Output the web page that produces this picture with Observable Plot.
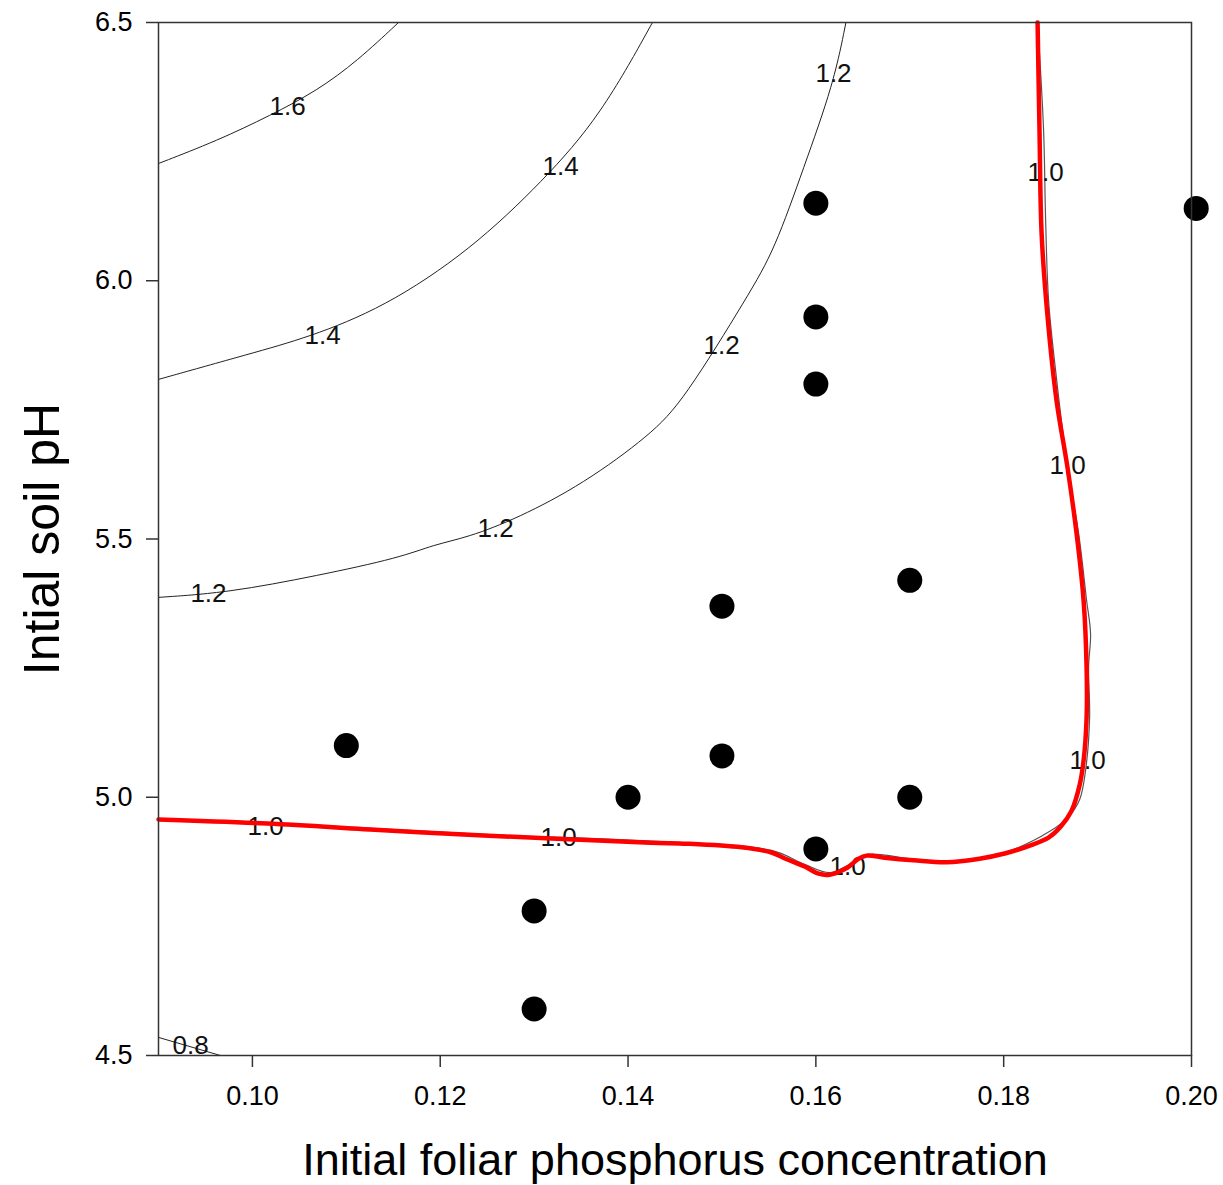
<!DOCTYPE html>
<html>
<head>
<meta charset="utf-8">
<script src="https://cdn.jsdelivr.net/npm/d3@7"></script>
<script src="https://cdn.jsdelivr.net/npm/@observablehq/plot@0.6"></script>
<style>
  body { margin: 0; background: #fff; }
  #chart svg { display: block; }
</style>
</head>
<body>
<div id="chart"></div>
<script>
// ---- Data ----
const xTicks = [0.10, 0.12, 0.14, 0.16, 0.18, 0.20];
const yTicks = [4.5, 5.0, 5.5, 6.0, 6.5];

// Contour lines, [foliar P, soil pH]
const contour16 = [[0.09,6.227],[0.0963,6.2715],[0.1019,6.32],[0.1069,6.368],[0.1112,6.426],[0.11556,6.5]];
const contour14 = [[0.09,5.809],[0.0998,5.859],[0.1059,5.890],[0.114,5.948],[0.1232,6.059],[0.131,6.194],[0.1371,6.320],[0.1426,6.5]];
const contour12 = [[0.09,5.387],[0.09735,5.396],[0.10693,5.429],[0.11577,5.464],[0.11929,5.489],[0.12291,5.503],[0.12823,5.540],[0.13526,5.607],[0.1424,5.702],[0.1459,5.768],[0.1529,5.975],[0.1556,6.060],[0.1587,6.219],[0.1619,6.382],[0.1632,6.5]];
const contour10 = [[0.18361,6.5],[0.18425,6.291],[0.18446,6.122],[0.18478,5.962],[0.18553,5.826],[0.1868,5.638],[0.18798,5.511],[0.18883,5.381],[0.18925,5.317],[0.18904,5.251],[0.18915,5.154],[0.18872,5.052],[0.18808,4.995],[0.18690,4.962],[0.18500,4.935],[0.1801,4.893],[0.17392,4.876],[0.1704,4.880],[0.1654,4.889],[0.16338,4.868],[0.16146,4.854],[0.1588,4.870],[0.15528,4.897],[0.1424,4.915],[0.12461,4.928],[0.10161,4.951],[0.09,4.958]];
const contour08 = [[0.09,4.535],[0.0966,4.5]];

// Red threshold line
const redLine = [[0.18361,6.5],[0.18382,6.285],[0.18404,6.091],[0.18468,5.929],[0.18563,5.768],[0.1868,5.638],[0.18776,5.511],[0.18851,5.381],[0.18883,5.251],[0.18883,5.154],[0.18851,5.071],[0.18808,5.023],[0.18723,4.974],[0.18606,4.943],[0.18478,4.922],[0.18286,4.907],[0.1801,4.891],[0.17743,4.881],[0.17392,4.874],[0.1704,4.878],[0.16732,4.883],[0.1654,4.887],[0.16455,4.881],[0.16338,4.864],[0.16146,4.850],[0.16029,4.852],[0.1588,4.866],[0.15677,4.881],[0.15528,4.893],[0.15209,4.903],[0.14634,4.910],[0.1424,4.912],[0.12461,4.926],[0.11396,4.936],[0.10161,4.949],[0.09,4.957]];

// Contour labels
const labelText = ["1.6","1.4","1.4","1.2","1.2","1.2","1.2","1.0","1.0","1.0","1.0","1.0","1.0","0.8"];
const labelX = [0.10374,0.13281,0.10747,0.09532,0.12589,0.14996,0.16188,0.18446,0.1868,0.18893,0.10140,0.1326,0.16338,0.09341];
const labelY = [6.337,6.221,5.894,5.394,5.520,5.875,6.401,6.210,5.642,5.071,4.943,4.922,4.866,4.519];

// Observed points
const pointX = [0.16,0.16,0.16,0.2005,0.17,0.15,0.11,0.15,0.14,0.17,0.16,0.13,0.13];
const pointY = [6.15,5.93,5.80,6.14,5.42,5.37,5.10,5.08,5.00,5.00,4.90,4.78,4.59];

// ---- Build tables ----
const toRows = arr => arr.map(([x, y]) => ({x, y}));
const contours = [contour16, contour14, contour12, contour08].map(toRows);
const labels = labelText.map((t, i) => ({t, x: labelX[i], y: labelY[i]}));
const points = pointX.map((x, i) => ({x, y: pointY[i]}));

const font = "'Liberation Sans', Arial, Helvetica, sans-serif";
const axisColor = "#333";

const chart = Plot.plot({
  width: 1223,
  height: 1185,
  marginLeft: 158,
  marginTop: 22,
  marginRight: 32,
  marginBottom: 130,
  style: {fontFamily: font, background: "#fff", color: "#000"},
  x: {domain: [0.09, 0.20]},
  y: {domain: [4.5, 6.5]},
  marks: [
    ...contours.map(c => Plot.line(c, {x: "x", y: "y", stroke: "#222", strokeWidth: 1, curve: "basis"})),
    Plot.line(toRows(contour10), {x: "x", y: "y", stroke: "#555", strokeWidth: 1.2, curve: "catmull-rom"}),
    Plot.text(labels, {x: "x", y: "y", text: "t", fontSize: 26, fill: "#111"}),
    Plot.line(toRows(redLine), {x: "x", y: "y", stroke: "#ff0000", strokeWidth: 4.5, curve: "catmull-rom"}),
    Plot.dot(points, {x: "x", y: "y", r: 12.5, fill: "#000", stroke: "none"}),
    Plot.frame({stroke: axisColor, strokeWidth: 1.5}),
    Plot.axisX({ticks: xTicks, tickFormat: d3.format(".2f"), tickSize: 12, tickPadding: 18, fontSize: 27, stroke: axisColor, strokeWidth: 1.5, label: null, fill: "#000"}),
    Plot.axisY({ticks: yTicks, tickFormat: d3.format(".1f"), tickSize: 12, tickPadding: 14, fontSize: 27, stroke: axisColor, strokeWidth: 1.5, label: null, fill: "#000"}),
    Plot.text(["Initial foliar phosphorus concentration"], {frameAnchor: "bottom", textAnchor: "middle", lineAnchor: "bottom", dy: 119, fontSize: 45, fill: "#000"}),
    Plot.text(["Intial soil pH"], {frameAnchor: "left", textAnchor: "middle", lineAnchor: "bottom", rotate: -90, dx: -100, fontSize: 50, fill: "#000"})
  ]
});
document.getElementById("chart").appendChild(chart);
</script>
</body>
</html>
